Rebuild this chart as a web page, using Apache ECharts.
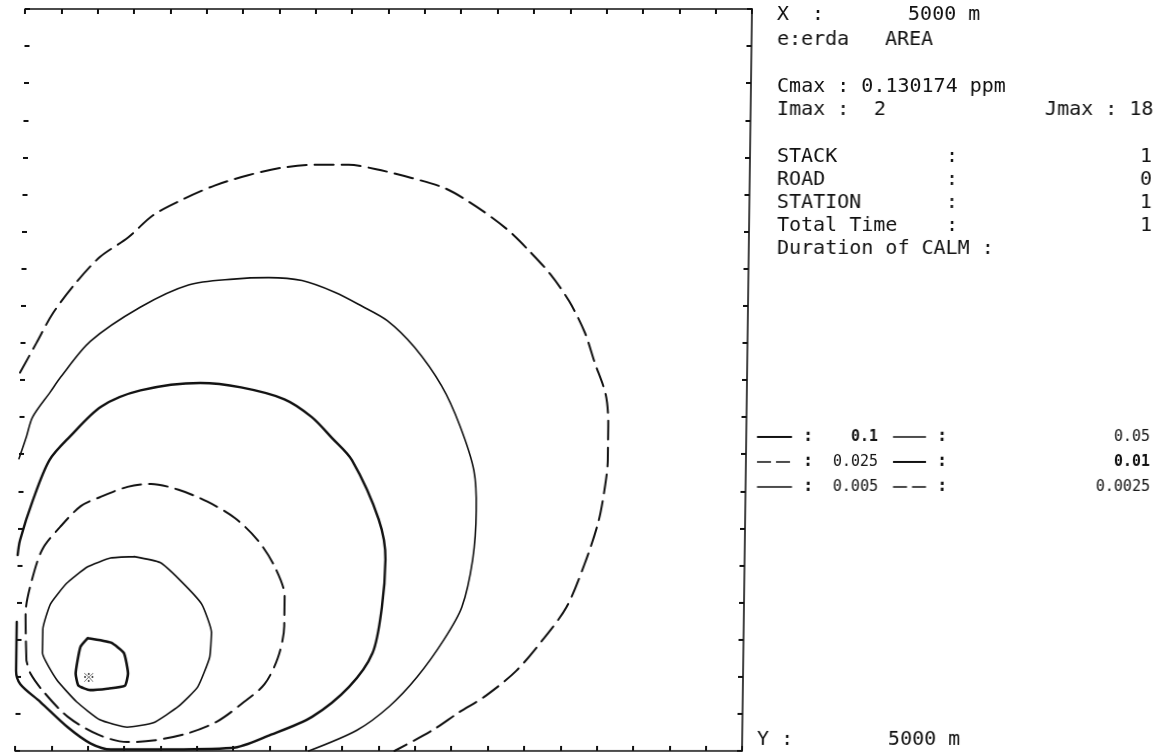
<!DOCTYPE html>
<html>
<head>
<meta charset="utf-8">
<script src="https://cdn.jsdelivr.net/npm/echarts@6/dist/echarts.min.js"></script>
<style>
  html, body { margin: 0; padding: 0; background: #fff; }
  /* the plotter sheet is slightly sheared: the bottom edge sits ~10px left of the top edge */
  #chart { width: 1161px; height: 755px; transform: skewX(-0.77deg); transform-origin: 0 9px; }
</style>
</head>
<body>
<div id="chart"></div>
<script>
// ---- domain (metres) ----
const domainX = 5000;
const domainY = 5000;
const gridStep = 250;

// ---- run summary ----
const areaName = 'e:erda';
const areaType = 'AREA';
const cmax = '0.130174';
const imax = 2;
const jmax = 18;
const infoLabels = ['STACK', 'ROAD', 'STATION', 'Total Time'];
const infoCounts = [1, 0, 1, 1];

// ---- contour levels (ppm) ----
const levels = ['0.1', '0.05', '0.025', '0.01', '0.005', '0.0025'];

// source cell (Imax, Jmax) in metres
const sourcePoint = [[500, 500]];

// ---- isolines, [x (m), y (m)] ----
const c0100 = [[490,760],[650,730],[740,660],[770,520],[750,440],[630,420],[510,410],[430,440],[410,520],[440,700],[490,760]];
const c0050 = [[800,1310],[980,1270],[1120,1150],[1270,990],[1340,800],[1330,630],[1250,430],[1120,300],[950,190],[770,160],[580,210],[420,330],[280,480],[180,660],[180,820],[230,990],[340,1130],[480,1240],[640,1300],[800,1310]];
const c0025 = [[70,610],[60,930],[100,1150],[170,1360],[290,1510],[430,1650],[560,1710],[750,1780],[910,1800],[1100,1760],[1300,1680],[1490,1570],[1650,1420],[1770,1240],[1840,1040],[1840,840],[1800,630],[1710,450],[1570,330],[1390,200],[1190,120],[950,70],[770,60],[570,110],[360,230],[190,400],[100,520],[70,610]];
const c0010 = [[0,1320],[15,1420],[100,1690],[210,1960],[350,2120],[560,2320],[830,2430],[1240,2480],[1520,2450],[1820,2370],[2010,2250],[2150,2110],[2290,1960],[2480,1560],[2530,1290],[2510,970],[2450,660],[2290,430],[2040,230],[1760,110],[1490,20],[1000,10],[660,10],[520,50],[360,160],[170,330],[30,450],[0,540],[0,870]];
const c0005 = [[0,1970],[50,2120],[90,2250],[210,2420],[280,2520],[480,2760],[820,2990],[1150,3140],[1460,3180],[1700,3190],[1930,3170],[2160,3090],[2340,3000],[2520,2900],[2710,2720],[2900,2460],[3030,2190],[3130,1890],[3150,1620],[3130,1290],[3060,970],[2940,750],[2760,500],[2570,300],[2350,140],[2020,0]];
const c00025 = [[0,2550],[110,2750],[220,2950],[380,3160],[540,3330],[730,3460],[900,3610],[1110,3720],[1320,3810],[1550,3880],[1780,3930],[2000,3950],[2240,3950],[2430,3920],[2680,3860],[2910,3790],[3120,3670],[3330,3520],[3490,3370],[3640,3210],[3770,3030],[3880,2820],[3950,2620],[4030,2400],[4050,2190],[4050,1960],[4030,1760],[3990,1540],[3900,1260],[3780,970],[3620,750],[3440,540],[3230,370],[3050,260],[2870,140],[2610,0]];

// ---- styling ----
const INK = '#111';
const MONO = '"DejaVu Sans Mono", "Liberation Mono", monospace';
const DASH = [19, 8];
const TOP = 9;
const SHEAR = 10 / 742;               // compensates the sheet shear for panel text
const ux = (x, y) => x + SHEAR * (y - TOP);

const isoStyles = [
  { width: 2.6, type: 'solid', smooth: 0.15 },   // 0.1
  { width: 1.6, type: 'solid', smooth: 0.15 },   // 0.05
  { width: 2.0, type: DASH,    smooth: 0.3 },    // 0.025
  { width: 2.4, type: 'solid', smooth: 0.3 },    // 0.01
  { width: 1.6, type: 'solid', smooth: 0.3 },    // 0.005
  { width: 2.0, type: DASH,    smooth: 0.3 }     // 0.0025
];
const isolines = [c0100, c0050, c0025, c0010, c0005, c00025];

const series = isolines.map((pts, i) => ({
  name: levels[i],
  type: 'line',
  data: pts,
  symbol: 'none',
  smooth: isoStyles[i].smooth,
  clip: false,
  lineStyle: { color: INK, width: isoStyles[i].width, type: isoStyles[i].type, cap: 'round', join: 'round' },
  silent: true,
  animation: false
}));
series.push({
  type: 'scatter',
  data: sourcePoint,
  symbolSize: 1,
  itemStyle: { color: 'rgba(0,0,0,0)' },
  label: { show: true, position: 'inside', formatter: '\u203B', fontSize: 13, fontWeight: 'bold', color: INK, fontFamily: '"Noto Sans CJK JP", "DejaVu Sans"' },
  silent: true,
  animation: false
});

// ---- axes: frame with inward ticks every grid step ----
function frameAxis(pos, showLine) {
  return {
    type: 'value', position: pos, min: 0,
    max: (pos === 'top' || pos === 'bottom') ? domainX : domainY,
    interval: gridStep,
    axisLine: { show: showLine, onZero: false, lineStyle: { color: INK, width: 1.6 } },
    axisTick: { show: true, inside: true, length: 5, lineStyle: { color: INK, width: 2 } },
    axisLabel: { show: false },
    splitLine: { show: false }
  };
}

// ---- side panel text ----
function txt(str, x, y, size, weight, align) {
  return {
    type: 'text', x: ux(x, y), y: y, silent: true,
    style: {
      text: str, fill: INK,
      font: (weight || 'normal') + ' ' + size + 'px ' + MONO,
      textAlign: align || 'left', align: align || 'left',
      textVerticalAlign: 'middle', verticalAlign: 'middle'
    }
  };
}
const T = 20;
const panel = [
  txt('X', 777, 15, T), txt(':', 812, 15, T), txt(domainX + ' m', 908, 15, T),
  txt(areaName, 777, 40, T), txt(areaType, 885, 40, T),
  txt('Cmax : ' + cmax + ' ppm', 777, 87, T),
  txt('Imax :', 777, 110, T), txt(String(imax), 874, 110, T),
  txt('Jmax : ' + jmax, 1045, 110, T),
  txt('Duration of CALM :', 777, 249, T),
  txt('Y :', 757, 740, T), txt(domainY + ' m', 888, 740, T)
];
const infoRows = [157, 180, 203, 226];
infoLabels.forEach((lab, i) => {
  panel.push(txt(lab, 777, infoRows[i], T));
  panel.push(txt(':', 946, infoRows[i], T));
  panel.push(txt(String(infoCounts[i]), 1140, infoRows[i], T));
});

// ---- level key: two columns, three rows ----
const keyRows = [437, 462, 487];
const keyCols = [{ x0: 757, x1: 792, colon: 803, right: 878 }, { x0: 893, x1: 926, colon: 937, right: 1150 }];
levels.forEach((lv, i) => {
  const r = Math.floor(i / 2), c = i % 2;
  const y = keyRows[r], col = keyCols[c];
  const st = isoStyles[i];
  const bold = (lv === '0.1' || lv === '0.01');
  panel.push({
    type: 'line', silent: true,
    shape: { x1: ux(col.x0, y), y1: y, x2: ux(col.x1, y), y2: y },
    style: { stroke: INK, lineWidth: Math.max(1.6, st.width - 0.4), lineDash: Array.isArray(st.type) ? [14, 5] : null }
  });
  panel.push(txt(':', col.colon, y, 17, 'bold'));
  panel.push(txt(lv, col.right, y, 15, bold ? 'bold' : 'normal', 'right'));
});

const chart = echarts.init(document.getElementById('chart'), null, { renderer: 'canvas' });
chart.setOption({
  backgroundColor: '#fff',
  animation: false,
  grid: { left: 25, top: TOP, width: 727, height: 742, containLabel: false },
  xAxis: [frameAxis('bottom', true), frameAxis('top', true)],
  yAxis: [frameAxis('left', false), frameAxis('right', true)],
  series: series,
  graphic: { elements: panel }
});
</script>
</body>
</html>
